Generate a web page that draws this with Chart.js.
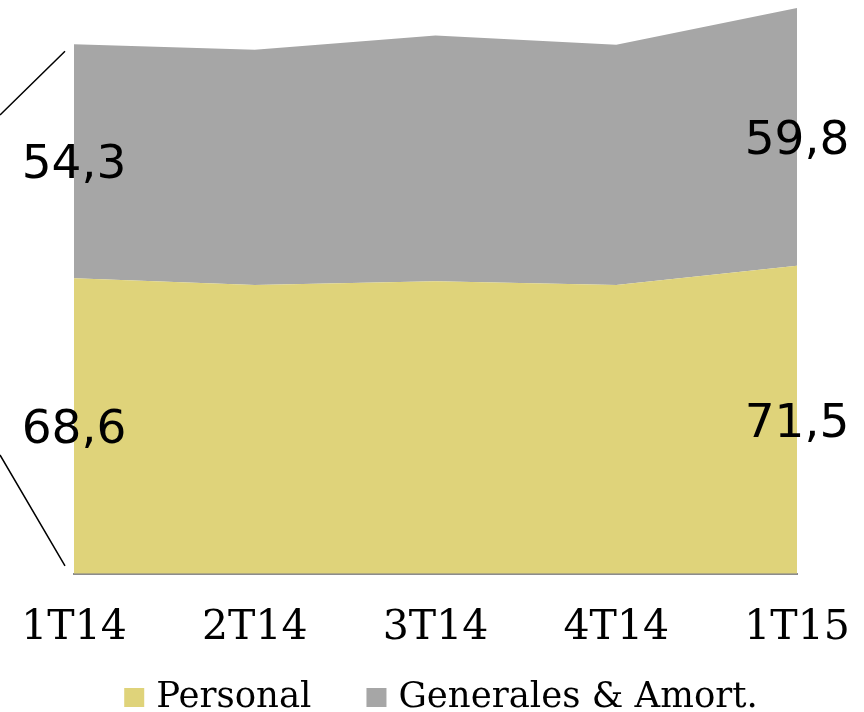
<!DOCTYPE html>
<html>
<head>
<meta charset="utf-8">
<script src="https://cdn.jsdelivr.net/npm/chart.js@4.4.0/dist/chart.umd.min.js"></script>
<style>
  html, body { margin: 0; padding: 0; background: #fff; }
  #chart { display: block; }
</style>
</head>
<body>
<canvas id="chart" width="864" height="712"></canvas>
<script>
// --- Data ---
const quarters = ['1T14', '2T14', '3T14', '4T14', '1T15'];
const personal = [68.6, 67.0, 67.9, 67.0, 71.5];
const generales = [54.3, 54.6, 57.0, 55.8, 59.8];
const seriesNames = ['Personal', 'Generales & Amort.'];

const YELLOW = '#dfd37a';
const GREY = '#a6a6a6';
const SERIF = '"DejaVu Serif"';

// value labels on first and last quarter, bracket lines, legend
const decorPlugin = {
    id: 'decor',
    afterDatasetsDraw(chart) {
        const ctx = chart.ctx;
        const x = chart.scales.x;
        const y = chart.scales.y;
        const area = chart.chartArea;
        const fmt = v => v.toFixed(1).replace('.', ',');

        ctx.save();
        ctx.font = '47px "DejaVu Sans"';
        ctx.fillStyle = '#000';
        ctx.textAlign = 'center';
        ctx.textBaseline = 'middle';
        [0, quarters.length - 1].forEach(i => {
            const px = x.getPixelForValue(i);
            const p = personal[i], g = generales[i];
            ctx.fillText(fmt(p), px, (y.getPixelForValue(0) + y.getPixelForValue(p)) / 2 + 5);
            ctx.fillText(fmt(g), px, (y.getPixelForValue(p) + y.getPixelForValue(p + g)) / 2 + 5);
        });

        // bracket lines
        ctx.strokeStyle = '#000';
        ctx.lineWidth = 1.5;
        ctx.beginPath();
        ctx.moveTo(0, 115);
        ctx.lineTo(area.left - 9, y.getPixelForValue(personal[0] + generales[0]) + 7);
        ctx.moveTo(0, 455);
        ctx.lineTo(area.left - 9, area.bottom - 8);
        ctx.stroke();

        // legend
        const colors = [YELLOW, GREY];
        ctx.font = '35.5px ' + SERIF;
        ctx.textAlign = 'left';
        ctx.textBaseline = 'alphabetic';
        const box = 20, gapText = 12, gapItem = 55;
        const widths = seriesNames.map(n => ctx.measureText(n).width);
        const total = widths.reduce((s, w) => s + box + gapText + w, 0) + gapItem;
        let cx = chart.width / 2 + 9 - total / 2;
        seriesNames.forEach((name, i) => {
            ctx.fillStyle = colors[i];
            ctx.fillRect(cx, 688, box, 19);
            ctx.fillStyle = '#000';
            ctx.fillText(name, cx + box + gapText, 707);
            cx += box + gapText + widths[i] + gapItem;
        });
        ctx.restore();
    }
};

const ctx = document.getElementById('chart').getContext('2d');
new Chart(ctx, {
    type: 'line',
    data: {
        labels: quarters,
        datasets: [
            {
                label: seriesNames[0],
                data: personal,
                backgroundColor: YELLOW,
                borderWidth: 0,
                pointRadius: 0,
                fill: 'origin',
                tension: 0
            },
            {
                label: seriesNames[1],
                data: generales,
                backgroundColor: GREY,
                borderWidth: 0,
                pointRadius: 0,
                fill: '-1',
                tension: 0
            }
        ]
    },
    options: {
        responsive: false,
        animation: false,
        layout: { padding: { left: 74, right: 67, top: 5, bottom: 45 } },
        scales: {
            x: {
                offset: false,
                grid: { display: false, drawTicks: true, tickLength: 16 },
                border: { display: true, color: '#8c8c8c', width: 2 },
                ticks: {
                    color: '#000',
                    font: { family: SERIF, size: 41 },
                    padding: 14,
                    maxRotation: 0
                }
            },
            y: {
                display: false,
                stacked: true,
                min: 0,
                max: 132
            }
        },
        plugins: {
            legend: { display: false },
            tooltip: { enabled: false }
        }
    },
    plugins: [decorPlugin]
});
</script>
</body>
</html>
